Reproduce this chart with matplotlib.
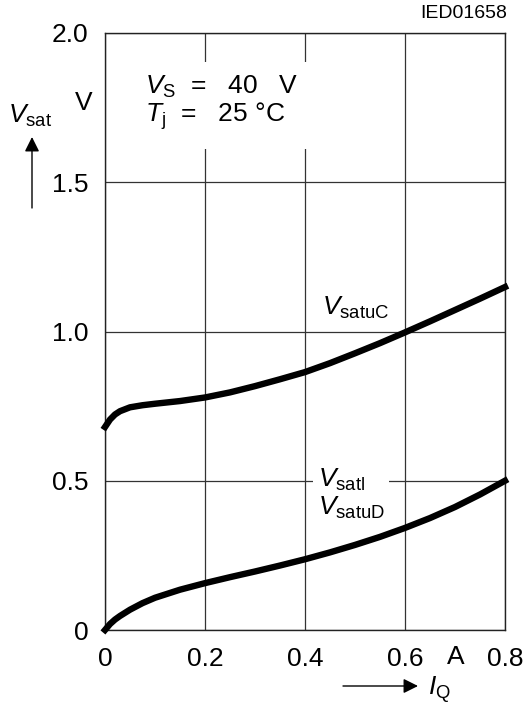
import numpy as np
import matplotlib.pyplot as plt

plt.rcParams['font.family'] = ['Liberation Sans', 'DejaVu Sans']
plt.rcParams['mathtext.fontset'] = 'custom'
plt.rcParams['mathtext.rm'] = 'Liberation Sans'
plt.rcParams['mathtext.it'] = 'Liberation Sans:italic'

# values
i_q = [0.0, 0.01, 0.02, 0.03, 0.05, 0.075, 0.1, 0.15, 0.2, 0.25, 0.3,
       0.35, 0.4, 0.45, 0.5, 0.55, 0.6, 0.65, 0.7, 0.75, 0.8]
v_satuc = [0.68, 0.705, 0.722, 0.733, 0.746, 0.753, 0.758, 0.767, 0.779,
           0.796, 0.817, 0.84, 0.864, 0.894, 0.927, 0.961, 0.997, 1.034,
           1.072, 1.11, 1.149]
v_satl = [0.0, 0.02, 0.035, 0.047, 0.068, 0.09, 0.108, 0.135, 0.157, 0.177,
          0.196, 0.216, 0.237, 0.26, 0.285, 0.312, 0.342, 0.375, 0.412,
          0.454, 0.5]

x_ticks = [0, 0.2, 0.4, 0.6, 0.8]
x_tick_labels = ['0', '0.2', '0.4', '0.6', '0.8']
y_ticks = [0, 0.5, 1.0, 1.5, 2.0]
y_tick_labels = ['0', '0.5', '1.0', '1.5', '2.0']

W, H = 526, 704
FS = 19


def fig_xy(px, py):
    """ピクセル座標を figure fraction に変換"""
    return px / W, 1 - py / H


fig = plt.figure(figsize=(W / 100, H / 100), dpi=100)
ax = fig.add_axes([105 / W, 1 - 630 / H, 400 / W, 597 / H])

ax.plot(i_q, v_satuc, color='black', lw=4.6, clip_on=False, zorder=5)
ax.plot(i_q, v_satl, color='black', lw=4.6, clip_on=False, zorder=5)

ax.set_xlim(0, 0.8)
ax.set_ylim(0, 2.0)
ax.set_xticks(x_ticks)
ax.set_xticklabels(x_tick_labels)
ax.set_yticks(y_ticks)
ax.set_yticklabels(y_tick_labels)
ax.tick_params(length=0, labelsize=FS, pad=12)
ax.grid(True, color='#333333', lw=0.9)
ax.set_axisbelow(True)
for s in ax.spines.values():
    s.set_linewidth(1.0)
    s.set_color('#222222')

# units
ax.text(0.702, -0.046, 'A', fontsize=FS, ha='center', va='center',
        transform=ax.get_xaxis_transform(), clip_on=False)
fig.text(*fig_xy(84, 103), 'V', fontsize=FS, ha='center', va='center')

# axis labels with arrows
fig.text(*fig_xy(8, 116), r'$V_{\mathrm{sat}}$', fontsize=FS, ha='left', va='center')
ax.annotate('', xy=fig_xy(32, 137), xytext=fig_xy(32, 208),
            xycoords='figure fraction', textcoords='figure fraction',
            arrowprops=dict(arrowstyle='-|>', lw=1.0, color='black',
                            mutation_scale=22, shrinkA=0, shrinkB=0))
fig.text(*fig_xy(428, 690), r'$I_{\mathrm{Q}}$', fontsize=FS, ha='left', va='center')
ax.annotate('', xy=fig_xy(418, 686), xytext=fig_xy(343, 686),
            xycoords='figure fraction', textcoords='figure fraction',
            arrowprops=dict(arrowstyle='-|>', lw=1.0, color='black',
                            mutation_scale=22, shrinkA=0, shrinkB=0))

fig.text(*fig_xy(507, 14), 'IED01658', fontsize=14, ha='right', va='center')

# conditions
ax.text(0.08, 1.765, '$V_{\\mathrm{S}}$  =   40   V\n$T_{\\mathrm{j}}$  =   25 \u00b0C',
        fontsize=FS, ha='left', va='center', linespacing=1.0,
        bbox=dict(facecolor='white', edgecolor='none', pad=12))

# curve labels
ax.text(0.434, 1.08, r'$V_{\mathrm{satuC}}$', fontsize=FS, ha='left', va='center')
ax.text(0.425, 0.455, '$V_{\\mathrm{satl}}$\n$V_{\\mathrm{satuD}}$',
        fontsize=FS, ha='left', va='center', linespacing=1.1,
        bbox=dict(facecolor='white', edgecolor='none', pad=3))

fig.savefig('out.png', dpi=100)
